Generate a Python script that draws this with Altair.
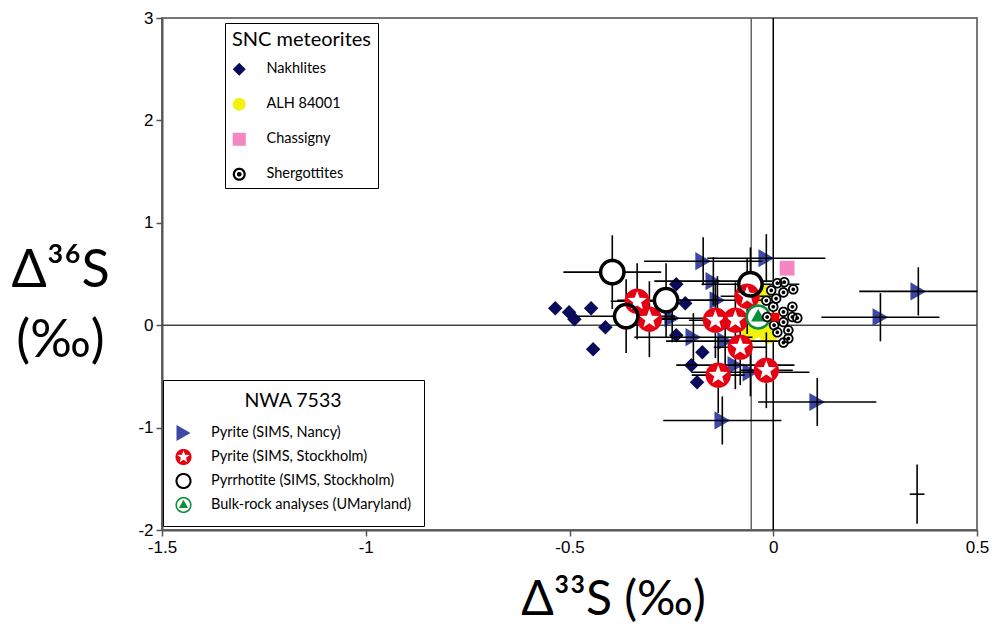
import math
import altair as alt
import pandas as pd

# ---------------- data ----------------
nakh_x = [-0.535, -0.501, -0.488, -0.447, -0.412, -0.442, -0.238, -0.216, -0.238, -0.174, -0.201, -0.187]
nakh_y = [0.166, 0.127, 0.059, 0.166, -0.020, -0.234, 0.400, 0.215, -0.098, -0.264, -0.391, -0.557]

alh_x = [-0.025, -0.055, -0.012]
alh_y = [0.31, -0.05, -0.08]

chas_x = [0.034]
chas_y = [0.557]

sherg_x = [0.010, 0.027, 0.049, 0.025, -0.005, -0.017, 0.007, 0.000, 0.025, 0.047,
           -0.015, 0.002, 0.025, 0.047, 0.059, 0.010, 0.037, 0.037, 0.025]
sherg_y = [0.41, 0.42, 0.35, 0.32, 0.34, 0.24, 0.26, 0.18, 0.13, 0.18,
           0.08, 0.00, 0.03, 0.08, 0.07, -0.07, -0.05, -0.13, -0.17]

other_x = [0.005]
other_y = [0.08]

nancy_x = [-0.172, -0.017, -0.147, -0.137, -0.248, -0.196, -0.118, -0.093, -0.056, 0.108, -0.125, 0.356, 0.263]
nancy_y = [0.625, 0.654, 0.430, 0.244, 0.068, -0.117, -0.156, -0.390, -0.460, -0.750, -0.930, 0.330, 0.078]
nancy_xerr = [0.145] * 13
nancy_yerr = [0.235] * 13

stock_x = [-0.334, -0.304, -0.142, -0.093, -0.064, -0.081, -0.135, -0.017]
stock_y = [0.234, 0.059, 0.049, 0.049, 0.283, -0.215, -0.488, -0.440]
stock_xerr = [0.065] * 8
stock_yerr = [0.37] * 8

pyrr_x = [-0.395, -0.263, -0.361, -0.056]
pyrr_y = [0.518, 0.244, 0.088, 0.400]
pyrr_xerr = [0.12] * 4
pyrr_yerr = [0.36] * 4

bulk_x = [-0.037]
bulk_y = [0.08]

rep_x = [0.353]
rep_y = [-1.65]
rep_xerr = [0.018]
rep_yerr = [0.29]

ref_x_black = [0.0]
ref_x_gray = [-0.054]
ref_y_gray = [0.0]

x_ticks = [-1.5, -1, -0.5, 0, 0.5]
y_ticks = [-2, -1, 0, 1, 2, 3]

snc_names = ["Nakhlites", "ALH 84001", "Chassigny", "Shergottites"]
nwa_names = ["Pyrite (SIMS, Nancy)", "Pyrite (SIMS, Stockholm)",
             "Pyrrhotite (SIMS, Stockholm)", "Bulk-rock analyses (UMaryland)"]

# ---------------- symbol paths ----------------
def circ(r, cw=True, n=48):
    s = 1 if cw else -1
    pts = [(r * math.sin(s * 2 * math.pi * k / n), -r * math.cos(s * 2 * math.pi * k / n)) for k in range(n)]
    return "M" + " L".join(f"{a:.3f},{b:.3f}" for a, b in pts) + " Z "

def star_ccw(R, r):
    pts = []
    for k in range(10):
        a = -k * math.pi / 5
        rad = R if k % 2 == 0 else r
        pts.append((rad * math.sin(a), -rad * math.cos(a)))
    return "M" + " L".join(f"{a:.3f},{b:.3f}" for a, b in pts) + " Z "

STAR_DISC = circ(1) + star_ccw(0.80, 0.33)
RING = circ(1) + circ(0.74, cw=False)
BULLSEYE = circ(1) + circ(0.66, cw=False) + circ(0.36)
BULK = circ(1) + circ(0.80, cw=False) + "M0,-0.64 L0.57,0.36 L-0.57,0.36 Z"

# ---------------- tables ----------------
def pts(xs, ys, name):
    return pd.DataFrame({"x": xs, "y": ys, "series": [name] * len(xs)})

df_alh = pts(alh_x, alh_y, "ALH 84001")
df_nakh = pts(nakh_x, nakh_y, "Nakhlites")
df_sherg = pts(sherg_x, sherg_y, "Shergottites")
df_chas = pts(chas_x, chas_y, "Chassigny")
df_snc = pd.concat([df_nakh, df_alh, df_chas, df_sherg])

df_nancy = pts(nancy_x, nancy_y, nwa_names[0])
df_stock = pts(stock_x, stock_y, nwa_names[1])
df_pyrr = pts(pyrr_x, pyrr_y, nwa_names[2])
df_bulk = pts(bulk_x, bulk_y, nwa_names[3])
df_nwa = pd.concat([df_nancy, df_stock, df_pyrr, df_bulk])
df_white = pd.concat([df_stock, df_pyrr, df_bulk])

def errs(xs, ys, xe, ye):
    return pd.DataFrame({"x": xs, "y": ys,
                         "xlo": [a - e for a, e in zip(xs, xe)], "xhi": [a + e for a, e in zip(xs, xe)],
                         "ylo": [a - e for a, e in zip(ys, ye)], "yhi": [a + e for a, e in zip(ys, ye)]})

df_err = pd.concat([errs(nancy_x, nancy_y, nancy_xerr, nancy_yerr),
                    errs(stock_x, stock_y, stock_xerr, stock_yerr),
                    errs(pyrr_x, pyrr_y, pyrr_xerr, pyrr_yerr),
                    errs(rep_x, rep_y, rep_xerr, rep_yerr)])

# ---------------- scales / axes ----------------
TITLE_FONT = "Lato"
xscale = alt.Scale(domain=[-1.5, 0.5], nice=False, zero=False)
yscale = alt.Scale(domain=[-2, 3], nice=False, zero=False)
xaxis = alt.Axis(values=x_ticks, labelExpr="'' + datum.value", labelFlush=False, title="Δ³³S (‰)",
                 titleFont=TITLE_FONT, titleFontSize=48, titleFontWeight="normal", titleColor="black",
                 titleX=451, titleY=84, titleBaseline="alphabetic", titleAlign="center", titleAnchor="start")
yaxis = alt.Axis(values=y_ticks, labelExpr="'' + datum.value", labelFlush=False, title=["Δ³⁶S", "(‰)"],
                 titleFont=TITLE_FONT, titleFontSize=52, titleFontWeight="normal", titleColor="black",
                 titleAngle=0, titleX=-102, titleY=252, titleBaseline="middle", titleAlign="center",
                 titleLineHeight=70, titleAnchor="start")

def X(field="x"):
    return alt.X(f"{field}:Q", scale=xscale, axis=xaxis)

def Y(field="y"):
    return alt.Y(f"{field}:Q", scale=yscale, axis=yaxis)

# ---------------- layers ----------------
refs_black = alt.Chart(pd.DataFrame({"x": ref_x_black})).mark_rule(color="black", strokeWidth=1.5).encode(x=X())
refs_gray = alt.Chart(pd.DataFrame({"x": ref_x_gray})).mark_rule(color="#666666", strokeWidth=1.5).encode(x=X())
refs_h = alt.Chart(pd.DataFrame({"y": ref_y_gray})).mark_rule(color="#444444", strokeWidth=1.5).encode(y=Y())

snc_legend = alt.Legend(title="SNC meteorites", orient="none", legendX=63, legendY=5, padding=7,
                        strokeColor="black", fillColor="white", titleFont=TITLE_FONT, titleFontSize=20,
                        titleFontWeight="normal", titleColor="black", titlePadding=12,
                        labelFont=TITLE_FONT, labelFontSize=14.5, labelColor="black", labelLimit=300,
                        symbolSize=170, symbolStrokeWidth=0, symbolOpacity=1, rowPadding=20, labelOffset=20)
nwa_legend = alt.Legend(title="NWA 7533", orient="none", legendX=1, legendY=362, padding=12,
                        strokeColor="black", fillColor="white", titleFont=TITLE_FONT, titleFontSize=19.5,
                        titleFontWeight="normal", titleColor="black", titlePadding=13, titleAnchor="middle",
                        labelFont=TITLE_FONT, labelFontSize=14.5, labelColor="black", labelLimit=400,
                        symbolSize=260, symbolStrokeWidth=0, symbolOpacity=1, rowPadding=7, labelOffset=19)

snc_colors = ["#0b0b5c", "#f2f20f", "#f486c1", "#000000"]
snc_shapes = ["diamond", "circle", "square", BULLSEYE]
nwa_colors = ["#3d47a6", "#e60012", "#000000", "#0a8f3c"]
nwa_shapes = ["triangle-right", STAR_DISC, RING, BULK]

leg_snc = alt.Chart(df_snc).mark_point(filled=True, opacity=1, size=1, strokeWidth=0).encode(
    x=X(), y=Y(),
    color=alt.Color("series:N", scale=alt.Scale(domain=snc_names, range=snc_colors), legend=snc_legend),
    shape=alt.Shape("series:N", scale=alt.Scale(domain=snc_names, range=snc_shapes), legend=snc_legend))
leg_nwa = alt.Chart(df_nwa).mark_point(filled=True, opacity=1, size=1, strokeWidth=0).encode(
    x=X(), y=Y(),
    color=alt.Color("series:N", scale=alt.Scale(domain=nwa_names, range=nwa_colors), legend=nwa_legend),
    shape=alt.Shape("series:N", scale=alt.Scale(domain=nwa_names, range=nwa_shapes), legend=nwa_legend))

def sym(df, shape, color, size):
    return alt.Chart(df).mark_point(filled=True, opacity=1, shape=shape, color=color, size=size,
                                    strokeWidth=0).encode(x=X(), y=Y())

alh = sym(df_alh, "circle", "#f2f20f", 400)
nakh = sym(df_nakh, "diamond", "#0b0b5c", 210)
nancy = sym(df_nancy, "triangle-right", "#3d47a6", 330)

err_h = alt.Chart(df_err).mark_rule(color="black", strokeWidth=1.6).encode(x=X("xlo"), x2="xhi:Q", y=Y())
err_v = alt.Chart(df_err).mark_rule(color="black", strokeWidth=1.6).encode(x=X(), y=Y("ylo"), y2="yhi:Q")

white_big = sym(df_white, "circle", "white", 600)
stock = sym(df_stock, STAR_DISC, "#e60012", 640)
pyrr = sym(df_pyrr, RING, "#000000", 720)
bulk = sym(df_bulk, BULK, "#0a8f3c", 640)
white_small = sym(df_sherg, "circle", "white", 100)
sherg = sym(df_sherg, BULLSEYE, "#000000", 110)
chas = sym(df_chas, "square", "#f486c1", 220)
other = sym(pd.DataFrame({"x": other_x, "y": other_y}), "square", "#ee0000", 70)

chart = alt.layer(
    refs_gray, refs_black, refs_h, leg_snc, leg_nwa,
    alh, nakh, nancy, err_h, err_v, white_big, stock, pyrr, bulk, white_small, sherg, chas, other
).resolve_scale(color="independent", shape="independent").properties(
    width=815, height=512,
    padding={"left": 162, "top": 18, "right": 15, "bottom": 96},
    autosize=alt.AutoSizeParams(type="none"),
).configure_view(stroke="#777777", strokeWidth=2).configure_axis(
    grid=False, labelFont="Liberation Sans", labelFontSize=17, labelColor="black",
    tickColor="#555555", tickSize=6, tickWidth=1.5, domainColor="#555555", domainWidth=2, labelPadding=3,
)

chart.save("out.html", embed_options={"renderer": "svg", "actions": False})
